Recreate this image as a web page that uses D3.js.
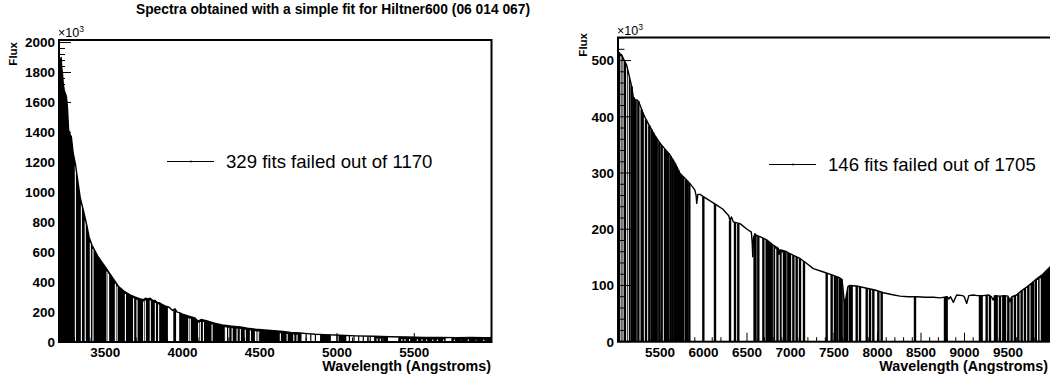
<!DOCTYPE html>
<html><head><meta charset="utf-8">
<script src="https://cdn.jsdelivr.net/npm/d3@7"></script>
<style>
html,body{margin:0;padding:0;background:#fff;}
svg{display:block;}
text{font-family:"Liberation Sans",Arial,Helvetica,sans-serif;}
</style></head>
<body>
<svg id="chart" width="1050" height="377"></svg>
<script>
// ---------- DATA ----------
const titleText = "Spectra obtained with a simple fit for Hiltner600 (06 014 067)";
const xAxisTitle = "Wavelength (Angstroms)";
const yAxisTitle = "Flux";

// Left panel: envelope of the spectrum (wavelength in Å, flux in 10^3)
const leftWavelength = [3202,3206,3210,3214,3218,3222,3228,3234,3241,3248,3255,3262,3270,3280,3292,3306,3320,3338,3360,3381,3395,3414,3450,3480,3500,3530,3560,3586,3620,3660,3694,3720,3745,3760,3775,3790,3805,3820,3835,3850,3870,3889,3905,3920,3935,3950,3965,3980,4000,4040,4080,4100,4120,4159,4200,4256,4320,4374,4420,4472,4530,4590,4650,4700,4760,4806,4860,4920,5022,5120,5238,5340,5454,5560,5670,5780,5870,5950,6000];
const leftFlux = [1860,1890,1870,1900,1830,1800,1720,1680,1660,1640,1560,1420,1390,1370,1260,1192,1090,960,870,775,700,646,575,530,501,455,410,370,340,315,300,290,282,292,288,292,280,278,265,262,250,240,236,226,210,222,200,196,186,172,160,140,150,140,128,114,106,100,92,85,80,76,70,64,60,56,52,49,45,41,38,35,33,31,30,29,30,29,28];
const leftSolidRanges = [[3200,3905],[3940,3958],[3978,4770],[4890,4960],[5010,5060],[5240,5330],[5400,5700],[5740,6000]];
const leftWhiteGaps = [3306,3345,3370,3403,3420,3511,3521,3565,3576,3630,3683,3705,3748,3759,3791,3824,3845,4040,4050,4104,4115,4135,4191,4277,4284,4299,4321,4353,4374,4406,4439,4472,4482,4493,4633,4677,4720,4741,5260,5280,5300,5420,5440,5470,5520,5550,5580,5620,5650,5690,5760,5800,5850,5900,5950];
const leftDropLines = [4800,4830,4860,5000,5080,5110,5140,5170,5200,5215];
const leftYTicks = [0,200,400,600,800,1000,1200,1400,1600,1800,2000];
const leftXTicks = [3500,4000,4500,5000,5500];
const leftLegend = "329 fits failed out of 1170";

// Right panel
const rightWavelength = [5021,5040,5060,5090,5117,5150,5175,5193,5215,5232,5250,5270,5300,5340,5385,5440,5500,5560,5615,5670,5730,5790,5845,5900,5915,5922,5935,5960,5998,6080,6152,6220,6267,6290,6305,6320,6343,6420,6500,6550,6560,6566,6575,6590,6611,6660,6726,6800,6860,6870,6879,6890,6956,7000,7109,7180,7262,7380,7492,7560,7588,7600,7615,7626,7640,7660,7684,7760,7876,7970,8067,8160,8259,8351,8451,8550,8642,8720,8800,8820,8840,8872,8910,8980,9000,9025,9050,9100,9150,9215,9280,9310,9330,9350,9408,9460,9500,9523,9545,9600,9650,9715,9770,9830,9900,9983,10006];
const rightFlux = [516,512,510,500,492,470,453,435,430,430,428,421,408,395,382,367,353,342,332,318,299,290,281,270,260,246,262,262,258,250,243,236,228,224,215,222,213,210,200,195,175,151,185,192,189,186,181,172,166,158,163,163,160,156,148,140,130,124,118,114,111,100,75,68,80,98,100,99,95,92,87,84,81,80,80,79,79,78,80,76,80,70,83,82,79,68,82,83,82,82,83,80,74,82,81,82,81,71,80,83,90,97,104,112,120,133,136];
const rightSolidRanges = [[5017,5110],[5120,5160],[6573,6611],[6803,6956],[7607,7665],[9810,10006]];
const rightWhiteGaps = [5050,5075,5135,6830,6870,6905,9840,9870];
const rightDropLines = [5174,5193,5213,5218,5251,5289,5301,5339,5377,5404,5423,5443,5462,5492,5519,5557,5577,5596,5623,5646,5672,5692,5711,5730,5749,5768,5799,5814,5837,5998,6132,6305,6362,6400,6630,6688,6726,6745,6764,6784,6975,6994,7033,7071,7109,7155,7416,7473,7511,7538,7569,7588,7684,7703,7761,7799,7876,7914,7952,8010,8048,8431,8776,8795,9178,9197,9255,9293,9351,9370,9408,9446,9466,9504,9542,9580,9619,9657,9695,9734,9772,9791];
const rightYTicks = [0,100,200,300,400,500];
const rightXTicks = [5500,6000,6500,7000,7500,8000,8500,9000,9500];
const rightLegend = "146 fits failed out of 1705";

// ---------- DRAWING ----------
const svg = d3.select("#chart");

svg.append("text")
  .attr("x", 333).attr("y", 13.5)
  .attr("text-anchor", "middle")
  .attr("font-size", 13.8).attr("font-weight", "bold")
  .text(titleText);

function panel(cfg, id) {
  const x = d3.scaleLinear().domain(cfg.xDomain).range([cfg.left, cfg.right]);
  const y = d3.scaleLinear().domain(cfg.yDomain).range([cfg.bottom, cfg.top]);
  const curve = d3.scaleLinear().domain(cfg.wl).range(cfg.flux).clamp(true);
  const pts = cfg.wl.map((w, i) => [w, cfg.flux[i]]);

  svg.append("clipPath").attr("id", "clip" + id)
    .append("rect").attr("x", cfg.left).attr("y", cfg.top)
    .attr("width", cfg.right - cfg.left).attr("height", cfg.bottom - cfg.top);
  const g = svg.append("g").attr("clip-path", `url(#clip${id})`);

  const area = d3.area().x(d => x(d[0])).y0(y(0)).y1(d => y(d[1]));
  cfg.solid.forEach(([a, b]) => {
    const seg = [[a, curve(a)]].concat(pts.filter(p => p[0] > a && p[0] < b)).concat([[b, curve(b)]]);
    g.append("path").attr("d", area(seg)).attr("fill", "#000");
  });
  g.selectAll(null).data(cfg.gaps).enter().append("line")
    .attr("x1", d => x(d)).attr("x2", d => x(d))
    .attr("y1", y(0) - 1).attr("y2", d => y(curve(d)) + 2)
    .attr("stroke", "#fff").attr("stroke-width", 1.1);
  g.selectAll(null).data(cfg.drops).enter().append("line")
    .attr("x1", d => x(d)).attr("x2", d => x(d))
    .attr("y1", y(0)).attr("y2", d => y(curve(d)))
    .attr("stroke", "#000").attr("stroke-width", cfg.dropWidth);
  g.append("path").datum(pts)
    .attr("d", d3.line().x(d => x(d[0])).y(d => y(d[1])))
    .attr("fill", "none").attr("stroke", "#000").attr("stroke-width", 1.4)
    .attr("stroke-linejoin", "round");

  // axes, ROOT style (ticks inside frame)
  const ax = svg.append("g");
  const yMinor = d3.range(0, cfg.yDomain[1] + 1e-6, cfg.yMinorStep);
  ax.selectAll(null).data(yMinor).enter().append("line")
    .attr("x1", cfg.left).attr("x2", d => cfg.left + (cfg.yTicks.includes(Math.round(d)) ? cfg.yMajorLen : cfg.yMajorLen / 2))
    .attr("y1", d => y(d)).attr("y2", d => y(d))
    .attr("stroke", "#000").attr("stroke-width", 1);
  const xMinor = d3.range(Math.ceil(cfg.xDomain[0] / 100) * 100, cfg.xDomain[1], 100);
  ax.selectAll(null).data(xMinor).enter().append("line")
    .attr("x1", d => x(d)).attr("x2", d => x(d))
    .attr("y1", cfg.bottom).attr("y2", d => cfg.bottom - (d % 500 === 0 ? cfg.xMajorLen : cfg.xMajorLen / 2))
    .attr("stroke", "#000").attr("stroke-width", 1);

  ax.append("rect").attr("x", cfg.left).attr("y", cfg.top)
    .attr("width", cfg.right - cfg.left).attr("height", cfg.bottom - cfg.top)
    .attr("fill", "none").attr("stroke", "#000").attr("stroke-width", 2);

  ax.selectAll(null).data(cfg.yTicks).enter().append("text")
    .attr("x", cfg.left - 4).attr("y", d => y(d)).attr("dy", "0.36em")
    .attr("text-anchor", "end").attr("font-size", 13.5).attr("font-weight", "bold")
    .text(d => d);
  ax.selectAll(null).data(cfg.xTicks).enter().append("text")
    .attr("x", d => x(d)).attr("y", cfg.bottom + 15)
    .attr("text-anchor", "middle").attr("font-size", 13.5).attr("font-weight", "bold")
    .text(d => d);

  ax.append("text").attr("x", cfg.titleRight).attr("y", 371)
    .attr("text-anchor", "end").attr("font-size", 14.3).attr("font-weight", "bold")
    .text(xAxisTitle);
  ax.append("text")
    .attr("transform", `translate(${cfg.yTitleX},${cfg.yTitleTop}) rotate(-90)`)
    .attr("text-anchor", "end").attr("font-size", 11.5).attr("font-weight", "bold")
    .text(yAxisTitle);

  const mult = ax.append("text").attr("x", cfg.left - 1).attr("y", cfg.top - 3)
    .attr("font-size", 12.5);
  mult.append("tspan").text("\u00d710");
  mult.append("tspan").attr("dy", -5).attr("font-size", 8.5).text("3");

  ax.append("line").attr("x1", cfg.legX).attr("x2", cfg.legX + 47)
    .attr("y1", cfg.legY).attr("y2", cfg.legY)
    .attr("stroke", "#000").attr("stroke-width", 1.2);
  ax.append("line").attr("x1", cfg.legX + 24).attr("x2", cfg.legX + 24)
    .attr("y1", cfg.legY - 1).attr("y2", cfg.legY + 1)
    .attr("stroke", "#000").attr("stroke-width", 1);
  ax.append("text").attr("x", cfg.legX + 59).attr("y", cfg.legY).attr("dy", "0.36em")
    .attr("font-size", 18.6).text(cfg.legend);
}

panel({
  xDomain: [3200, 6000], yDomain: [0, 2017],
  left: 59, right: 491.5, top: 40, bottom: 342,
  wl: leftWavelength, flux: leftFlux,
  solid: leftSolidRanges, gaps: leftWhiteGaps, drops: leftDropLines, dropWidth: 1.2,
  yTicks: leftYTicks, xTicks: leftXTicks, yMinorStep: 40,
  yMajorLen: 12, xMajorLen: 9,
  titleRight: 491, yTitleX: 17, yTitleTop: 42,
  legX: 167, legY: 161.5, legend: leftLegend
}, "L");

panel({
  xDomain: [5017, 10006], yDomain: [0, 541],
  left: 618, right: 1052, top: 37.5, bottom: 341.7,
  wl: rightWavelength, flux: rightFlux,
  solid: rightSolidRanges, gaps: rightWhiteGaps, drops: rightDropLines, dropWidth: 2.4,
  yTicks: rightYTicks, xTicks: rightXTicks, yMinorStep: 20,
  yMajorLen: 13, xMajorLen: 9,
  titleRight: 1048, yTitleX: 587, yTitleTop: 33,
  legX: 769, legY: 164.5, legend: rightLegend
}, "R");
</script>
</body></html>
